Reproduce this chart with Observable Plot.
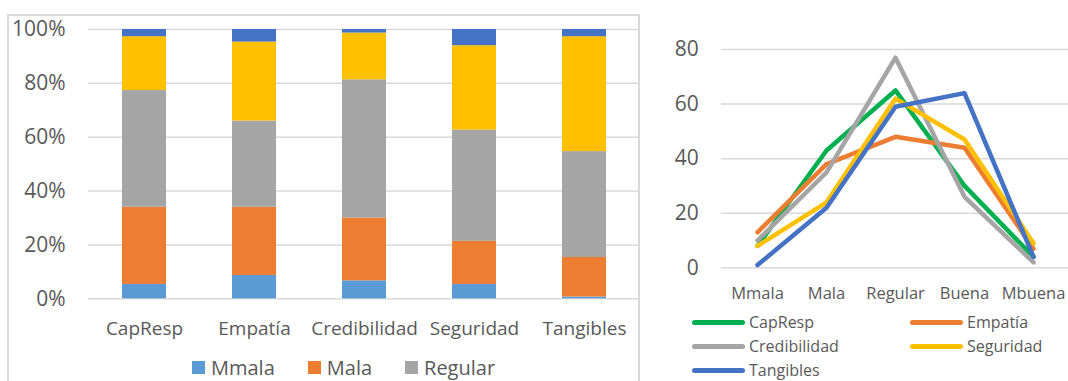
<!DOCTYPE html>
<html><head><meta charset="utf-8">
<script src="https://cdn.jsdelivr.net/npm/d3@7"></script>
<script src="https://cdn.jsdelivr.net/npm/@observablehq/plot@0.6"></script>
<style>
body{margin:0;background:#fff;font-family:"Open Sans",sans-serif;}
#wrap{position:relative;width:1068px;height:381px;overflow:hidden;background:#fff;}
.abs{position:absolute;}
#frame{left:7px;top:14px;width:629px;height:430px;border:2px solid #d9d9d9;}
#left{left:0;top:0;}
#right{left:650px;top:0;}
#legL{left:192px;top:355px;height:24px;display:flex;align-items:center;gap:33px;color:#595959;font-size:20px;}
#legL .it{display:flex;align-items:center;gap:6px;}
#legL .sw{width:13px;height:13px;}
#legR{left:692px;top:310px;display:grid;grid-template-columns:218px auto;grid-auto-rows:24px;color:#595959;font-size:16px;}
#legR .it{display:flex;align-items:center;gap:4px;}
#legR .sw{width:53px;height:5px;border-radius:3px;}
svg{overflow:visible;}
</style></head>
<body>
<div id="wrap">
  <div id="frame" class="abs"></div>
  <div id="left" class="abs"></div>
  <div id="right" class="abs"></div>
  <div id="legL" class="abs"></div>
  <div id="legR" class="abs"></div>
</div>
<script>
// categories
const dims = ["CapResp", "Empatía", "Credibilidad", "Seguridad", "Tangibles"];
const levels = ["Mmala", "Mala", "Regular", "Buena", "Mbuena"];
// counts per dimension, in the order of levels
const capResp = [8, 43, 65, 30, 4];
const empatia = [13, 38, 48, 44, 7];
const credibilidad = [10, 35, 77, 26, 2];
const seguridad = [8, 24, 62, 47, 9];
const tangibles = [1, 22, 59, 64, 4];
const series = [capResp, empatia, credibilidad, seguridad, tangibles];
// ticks
const pctTicks = [0, 0.2, 0.4, 0.6, 0.8, 1];
const countTicks = [0, 20, 40, 60, 80];
// legend entries shown under the bar chart
const barLegend = ["Mmala", "Mala", "Regular"];
// colours
const levelColors = ["#5B9BD5", "#ED7D31", "#A5A5A5", "#FFC000", "#4472C4"];
const dimColors = ["#00B050", "#ED7D31", "#A5A5A5", "#FFC000", "#4472C4"];

const rows = dims.flatMap((d, i) => levels.map((l, j) => ({dim: d, level: l, value: series[i][j]})));

const txt = "#595959", grid = "#d9d9d9";

const left = Plot.plot({
  width: 640, height: 381,
  marginLeft: 88, marginRight: 0, marginTop: 29, marginBottom: 82.7,
  style: {fontFamily: "Open Sans", color: txt, background: "transparent"},
  x: {domain: dims, paddingInner: 0.6, paddingOuter: 0.3, label: null},
  y: {domain: [0, 1], label: null},
  color: {domain: levels, range: levelColors},
  marks: [
    Plot.gridY(pctTicks, {stroke: grid, strokeOpacity: 1, strokeWidth: 1.5}),
    Plot.barY(rows, {x: "dim", y: "value", fill: "level", offset: "normalize"}),
    Plot.axisX({tickSize: 0, tickPadding: 23, fontSize: 19, label: null, fill: txt}),
    Plot.axisY(pctTicks, {tickSize: 0, tickPadding: 23, fontSize: 21, tickFormat: d3.format(".0%"), label: null, fill: txt})
  ]
});
document.getElementById("left").append(left);

const right = Plot.plot({
  width: 418, height: 381,
  marginLeft: 71, marginRight: 0, marginTop: 49, marginBottom: 113.7,
  style: {fontFamily: "Open Sans", color: txt, background: "transparent"},
  x: {type: "point", domain: levels, padding: 0.5, label: null},
  y: {domain: [0, 80], label: null},
  color: {domain: dims, range: dimColors},
  marks: [
    Plot.gridY(countTicks, {stroke: grid, strokeOpacity: 1, strokeWidth: 1.5}),
    Plot.line(rows, {x: "level", y: "value", z: "dim", stroke: "dim", strokeWidth: 4.5, strokeLinecap: "round", strokeLinejoin: "round"}),
    Plot.axisX({tickSize: 0, tickPadding: 19.3, fontSize: 16.5, label: null, fill: txt}),
    Plot.axisY(countTicks, {tickSize: 0, tickPadding: 22.7, fontSize: 21, label: null, fill: txt})
  ]
});
document.getElementById("right").append(right);

const legL = document.getElementById("legL");
barLegend.forEach(l => {
  const it = document.createElement("div"); it.className = "it";
  const sw = document.createElement("div"); sw.className = "sw"; sw.style.background = levelColors[levels.indexOf(l)];
  const t = document.createElement("span"); t.textContent = l;
  it.append(sw, t); legL.append(it);
});
const legR = document.getElementById("legR");
dims.forEach((d, i) => {
  const it = document.createElement("div"); it.className = "it";
  const sw = document.createElement("div"); sw.className = "sw"; sw.style.background = dimColors[i];
  const t = document.createElement("span"); t.textContent = d;
  it.append(sw, t); legR.append(it);
});
</script>
</body></html>
